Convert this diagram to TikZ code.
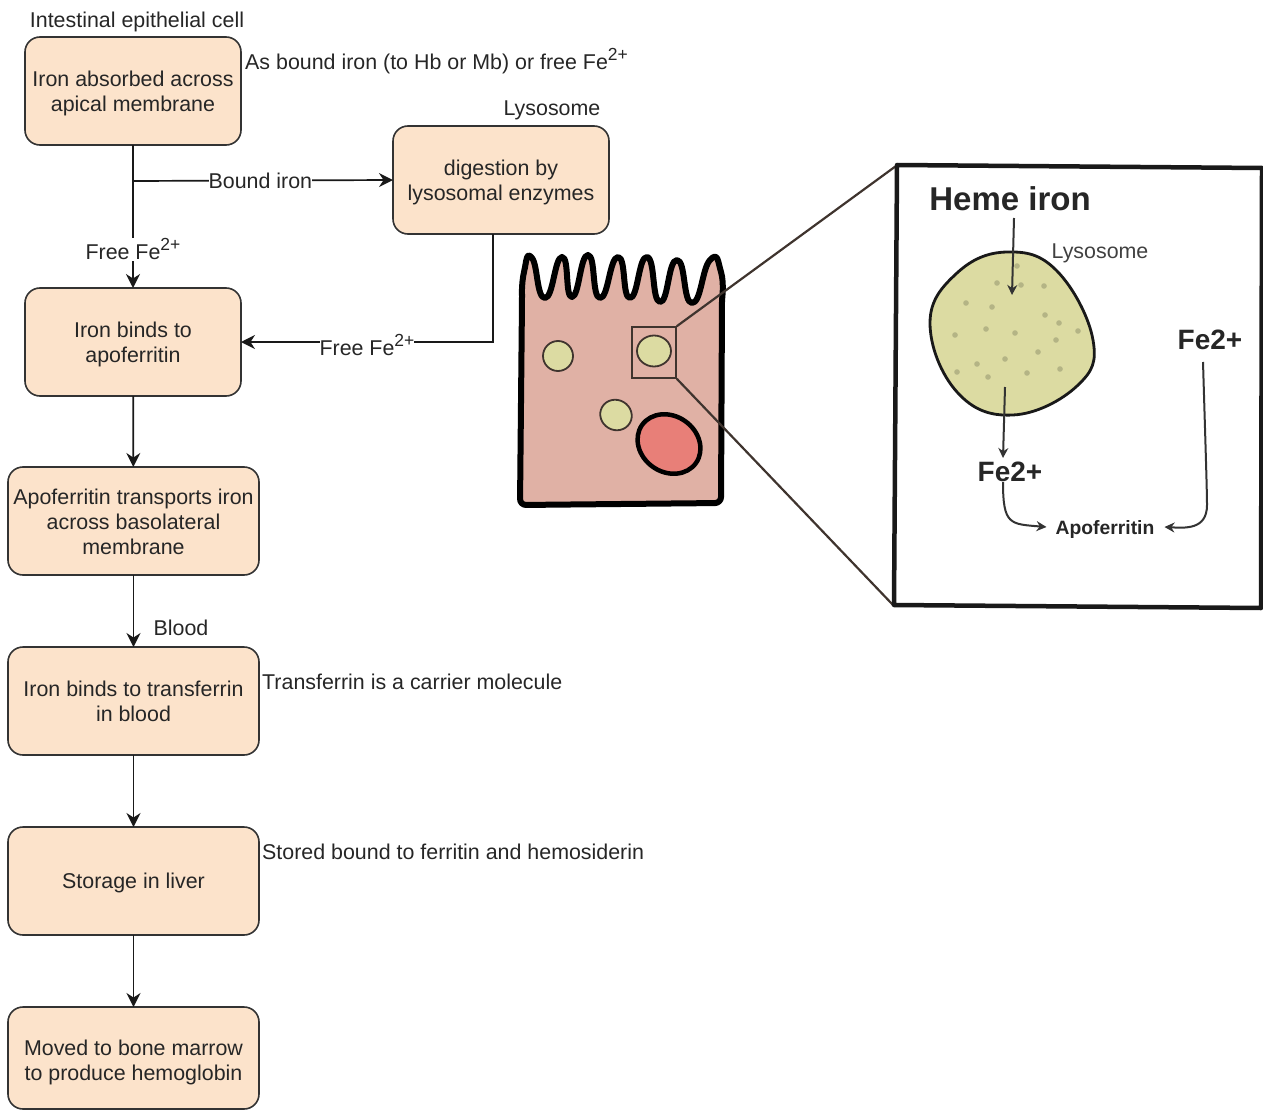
\documentclass[tikz,border=0pt]{standalone}
\usepackage{fontspec}
\setmainfont{Liberation Sans}
\usetikzlibrary{calc}
\usetikzlibrary{positioning, shapes, arrows.meta}

\definecolor{boxfill}{HTML}{FCE3CB}
\definecolor{cellfill}{HTML}{E0B1A5}
\definecolor{vesiclefill}{HTML}{DCDBA2}
\definecolor{nucleusfill}{HTML}{E87F78}
\definecolor{zoomline}{HTML}{3F342E}

\newcommand{\feion}{Fe\raisebox{.42em}{\fontsize{17.5}{17.5}\selectfont 2+}}
\newcommand{\boxlines}[2][3pt]{\raisebox{-#1}[\height][\depth]{\begin{tabular}{@{}c@{}}#2\end{tabular}}}

\tikzset{
  ironbox/.style={draw=black!80, fill=boxfill, line width=1.6pt, rounded corners=15pt, inner sep=0pt, outer sep=0pt, font=\fontsize{21.4}{25}\selectfont, text=black!85},
  sidenote/.style={inner sep=0pt, font=\fontsize{21.4}{25}\selectfont, text=black!85},
  edgenote/.style={fill=white, inner sep=1pt, font=\fontsize{21.4}{25}\selectfont, text=black!85},
  flow/.style={-{Stealth[length=14pt,width=14pt]}, line width=1.7pt, black!90},
  vesicle/.style={ellipse, draw=zoomline, fill=vesiclefill, line width=1.8pt, inner sep=0pt},
  inset/.style={-{Stealth[length=10pt,width=10pt]}, line width=2pt, black!80},
  insetlabel/.style={inner sep=0pt, font=\bfseries\fontsize{28}{28}\selectfont, text=black!85}
}

\begin{document}
\begin{tikzpicture}[x=1pt,y=-1pt]
\useasboundingbox (0,0) rectangle (1263,1110);

% flow chart boxes
\node [ironbox, minimum width=216pt, minimum height=108pt] (absorbed) at (133,91) {\boxlines{Iron absorbed across\\apical membrane}};
\node [ironbox, minimum width=216pt, minimum height=108pt] (digestion) at (501,180) {\boxlines{digestion by\\lysosomal enzymes}};
\node [ironbox, minimum width=216pt, minimum height=108pt] (binds) at (133,342) {\boxlines{Iron binds to\\apoferritin}};
\node [ironbox, minimum width=251pt, minimum height=108pt] (transports) at (133.5,521) {\boxlines{Apoferritin transports iron\\across basolateral\\membrane}};
\node [ironbox, minimum width=251pt, minimum height=108pt] (transferrin) at (133.5,701) {\boxlines{Iron binds to transferrin\\in blood}};
\node [ironbox, minimum width=251pt, minimum height=108pt] (liver) at (133.5,881) {\boxlines[2pt]{Storage in liver}};
\node [ironbox, minimum width=251pt, minimum height=102pt] (marrow) at (133.5,1058) {\boxlines[5pt]{Moved to bone marrow\\to produce hemoglobin}};

% notes beside the boxes
\node [sidenote] (cellnote) at (137,22) {Intestinal epithelial cell};
\node [sidenote, anchor=west] (boundnote) at (245,61) {As bound iron (to Hb or Mb) or free \feion};
\node [sidenote] (lysonote) at (552,110) {Lysosome};
\node [sidenote] (bloodnote) at (181,628) {Blood};
\node [sidenote, anchor=west] (carriernote) at (262,682) {Transferrin is a carrier molecule};
\node [sidenote, anchor=west] (storednote) at (262,852) {Stored bound to ferritin and hemosiderin};

% connectors
\coordinate (branch) at (133,181);
\coordinate (turn) at (493,342);
\draw [flow] (absorbed) -- node [edgenote, pos=0.73] (freelabel) {Free \feion} (binds);
\draw [flow] (branch) -- node [edgenote, inner sep=0pt, pos=0.49] (boundlabel) {Bound iron} (digestion.west);
\draw [flow] (digestion.south -| turn) -- (turn) -- node [edgenote, inner sep=0pt, yshift=-3pt] (returnlabel) {Free \feion} (binds.east);
\draw [flow] (binds) -- (transports);
\draw [flow] (transports) -- (transferrin);
\draw [flow] (transferrin) -- (liver);
\draw [flow] (liver) -- (marrow);

% the cell
\draw [line width=6pt, black, fill=cellfill, line join=round]
  plot [smooth, tension=1] coordinates {(522,300) (524,272) (532,258) (545,298) (562,257) (572,297) (588,255) (600,298) (618,257) (630,298) (647,257) (660,302) (677,260) (692,303) (710,260) (721,272) (722,300)}
  [rounded corners=6pt] -- (721,503) -- (520,505) -- cycle;
\node [vesicle, minimum width=30pt, minimum height=30pt] (vesiclea) at (558,356) {};
\node [vesicle, minimum width=34pt, minimum height=31pt] (vesicleb) at (654,351) {};
\node [vesicle, minimum width=32pt, minimum height=30pt, rotate=-30] (vesiclec) at (616,415) {};
\node [ellipse, draw=black, fill=nucleusfill, line width=4.5pt, minimum width=66pt, minimum height=56pt, inner sep=0pt, rotate=-35] (nucleus) at (669,444) {};

% enlarged part
\node [draw=zoomline, line width=1.6pt, minimum width=44pt, minimum height=51pt, inner sep=0pt] (crop) at (654,352.5) {};
\coordinate (insettop) at (896,166);
\coordinate (insetbottom) at (893,605);
\draw [zoomline, line width=2.2pt] (crop.north east) -- (insettop);
\draw [zoomline, line width=2.2pt] (crop.south east) -- (insetbottom);
\draw [line width=4.5pt, black!90, line join=round] (897,165) -- (1262,168) -- (1261,608) -- (894,605) -- cycle;

\draw [line width=2.8pt, black!90, fill=vesiclefill]
  plot [smooth cycle, tension=0.7] coordinates {(1007,252) (1057,271) (1093,340) (1077,386) (1013,415) (957,392) (930,323) (957,273)};
\foreach \px/\py in {997/283, 1017/266, 966/303, 992/307, 1045/315, 1059/323, 1078/331, 1056/340, 1015/333, 955/335, 986/329, 1038/352, 1005/359, 977/364, 1060/369, 1027/373, 957/372, 988/377, 1044/286, 1021/285}
  \fill [black!18!vesiclefill] (\px,\py) circle (2.8pt);

\node [insetlabel, font=\bfseries\fontsize{33}{33}\selectfont] (heme) at (1010,199) {Heme iron};
\node [sidenote, text=black!75] (lysolabel) at (1100,253) {Lysosome};
\node [insetlabel] (feright) at (1210,340) {Fe2+};
\node [insetlabel] (feleft) at (1010,472) {Fe2+};
\node [insetlabel, font=\bfseries\fontsize{19.3}{19.3}\selectfont] (apo) at (1105,530) {Apoferritin};

\coordinate (hemestart) at (1014,218);
\coordinate (lysoin) at (1012,295);
\coordinate (lysoout) at (1005,387);
\coordinate (feoutend) at (1003,458);
\coordinate (ferightstart) at (1203,362);
\draw [inset] (hemestart) -- (lysoin);
\draw [inset] (lysoout) -- (feoutend);
\draw [inset] (feleft.south -| feoutend) .. controls (1003,525) and (1010,524) .. ([xshift=-9pt,yshift=3pt]apo.west);
\draw [inset] (ferightstart) .. controls (1205,430) and (1207,490) .. (1207,505) .. controls (1207,530) and (1185,528) .. ([xshift=10pt,yshift=3pt]apo.east);
\end{tikzpicture}
\end{document}
